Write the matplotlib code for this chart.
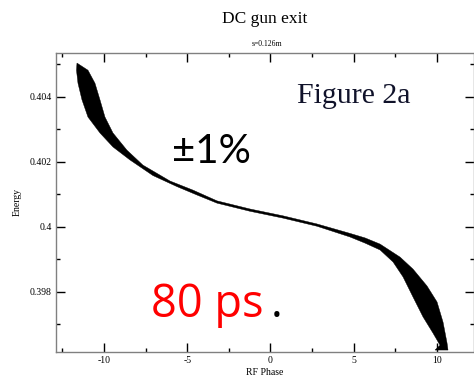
import matplotlib
matplotlib.use("Agg")
import matplotlib.pyplot as plt
from matplotlib.ticker import MultipleLocator

# Beam phase-space band at the DC gun exit: upper (high-energy) edge and
# lower (low-energy) edge, traced from head to tail of the bunch.
upper_phase = [-11.62, -10.96, -10.54, -10.24, -9.94, -9.46, -8.62, -7.66, -6.03,
               -4.65, -3.21, -1.23, 0.75, 2.79, 4.77, 5.68, 6.58, 7.78, 8.56,
               9.40, 10.00, 10.36, 10.60, 10.66]
upper_energy = [0.40504, 0.40482, 0.40442, 0.40391, 0.40338, 0.40289, 0.40236,
                0.40190, 0.40141, 0.40113, 0.40080, 0.40055, 0.40034, 0.40009,
                0.39980, 0.39966, 0.39947, 0.39907, 0.39870, 0.39818, 0.39769,
                0.39707, 0.39643, 0.39621]
lower_phase = [-11.65, -11.56, -11.32, -10.96, -10.24, -9.46, -8.44, -7.06, -5.62,
               -4.41, -3.21, -1.23, 0.75, 2.79, 4.77, 5.68, 6.58, 7.36, 7.96,
               8.56, 9.16, 9.76, 10.18, 9.88]
lower_energy = [0.40482, 0.40442, 0.40391, 0.40338, 0.40289, 0.40246, 0.40206,
                0.40158, 0.40124, 0.40098, 0.40073, 0.40048, 0.40027, 0.40002,
                0.39969, 0.39950, 0.39929, 0.39892, 0.39846, 0.39784, 0.39723,
                0.39673, 0.39636, 0.39621]

x_ticks = [-10, -5, 0, 5, 10]
x_tick_labels = ["-10", "-5", "0", "5", "10"]
y_ticks = [0.398, 0.400, 0.402, 0.404]
y_tick_labels = ["0.398", "0.4", "0.402", "0.404"]

serif = "Liberation Serif"

fig = plt.figure(figsize=(4.74, 3.82), dpi=100)
ax = fig.add_axes([56 / 474, 1 - 352 / 382, (473.5 - 56) / 474, (352 - 53) / 382])

# the band, drawn as one closed outline
poly_x = upper_phase + lower_phase[::-1]
poly_y = upper_energy + lower_energy[::-1]
ax.fill(poly_x, poly_y, color="black", linewidth=0.3, edgecolor="black")

ax.set_xlim(-12.88, 12.19)
ax.set_ylim(0.39615, 0.40535)

ax.set_xticks(x_ticks)
ax.set_xticklabels(x_tick_labels, fontfamily=serif, fontsize=7)
ax.set_yticks(y_ticks)
ax.set_yticklabels(y_tick_labels, fontfamily=serif, fontsize=7)
ax.xaxis.set_minor_locator(MultipleLocator(2.5))
ax.yaxis.set_minor_locator(MultipleLocator(0.001))
ax.tick_params(which="both", direction="in", top=True, right=True, color="black",
               width=1.0)
ax.tick_params(which="major", length=6.5, pad=3)
ax.tick_params(which="minor", length=3)
for s in ax.spines.values():
    s.set_color("#808080")
    s.set_linewidth(1.0)

ax.set_xlabel("RF Phase", fontfamily=serif, fontsize=7, labelpad=2)
ax.set_ylabel("Energy", fontfamily=serif, fontsize=7, labelpad=6)

fig.text(265 / 474, 1 - 19 / 382, "DC gun exit", fontfamily=serif, fontsize=12.5,
         ha="center", va="center")
fig.text(267 / 474, 1 - 44 / 382, "s=0.126m", fontfamily=serif, fontsize=5.5,
         ha="center", va="center")

fig.text(297 / 474, 1 - 103 / 382, "Figure 2a", fontfamily=serif, fontsize=21.5,
         color="#10122a", ha="left", va="baseline")
fig.text(172 / 474, 1 - 163 / 382, "\u00b11%", fontfamily="Lato", fontsize=29,
         color="black", ha="left", va="baseline")
fig.text(151 / 474, 1 - 317 / 382, "80 ps", fontfamily="Open Sans", fontsize=32.5,
         color="#ff0000", ha="left", va="baseline")
fig.text(271 / 474, 1 - 317 / 382, ".", fontfamily="Open Sans", fontsize=32.5,
         color="black", ha="left", va="baseline")

fig.savefig("out.png", dpi=100)
